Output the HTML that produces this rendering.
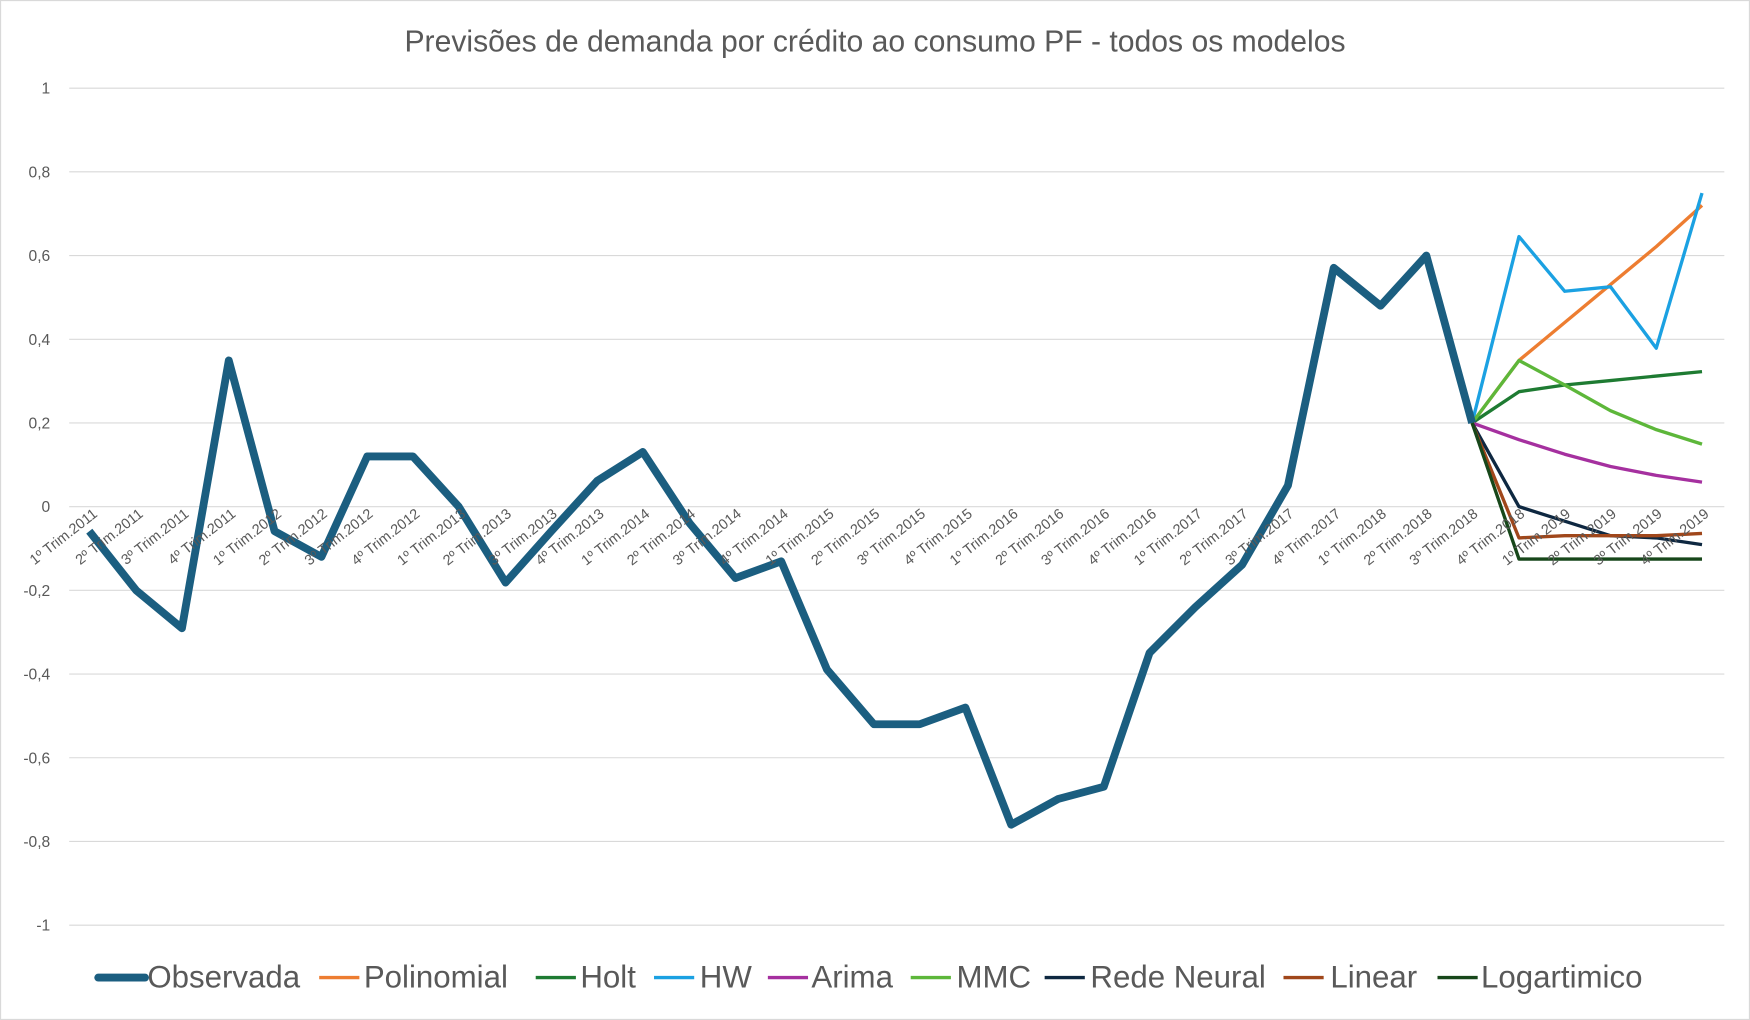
<!DOCTYPE html>
<html><head><meta charset="utf-8"><style>
html,body{margin:0;padding:0;background:#fff;}
svg{display:block;font-family:"Liberation Sans",sans-serif;}
</style></head><body>
<svg width="1750" height="1020" viewBox="0 0 1568 914" preserveAspectRatio="none">
<rect x="0.5" y="0.5" width="1567" height="913" fill="#fff" stroke="#d9d9d9"/>
<text x="784" y="46" text-anchor="middle" font-size="27" fill="#595959">Previsões de demanda por crédito ao consumo PF - todos os modelos</text>
<g stroke="#d9d9d9" stroke-width="1">
<line x1="62" x2="1545" y1="79" y2="79"/><line x1="62" x2="1545" y1="154" y2="154"/><line x1="62" x2="1545" y1="229" y2="229"/><line x1="62" x2="1545" y1="304" y2="304"/><line x1="62" x2="1545" y1="379" y2="379"/><line x1="62" x2="1545" y1="454" y2="454"/><line x1="62" x2="1545" y1="529" y2="529"/><line x1="62" x2="1545" y1="604" y2="604"/><line x1="62" x2="1545" y1="679" y2="679"/><line x1="62" x2="1545" y1="754" y2="754"/><line x1="62" x2="1545" y1="829" y2="829"/>
</g>
<g font-size="14" fill="#595959" text-anchor="end">
<text x="45" y="84">1</text><text x="45" y="159">0,8</text><text x="45" y="234">0,6</text><text x="45" y="309">0,4</text><text x="45" y="384">0,2</text><text x="45" y="459">0</text><text x="45" y="534">-0,2</text><text x="45" y="609">-0,4</text><text x="45" y="684">-0,6</text><text x="45" y="759">-0,8</text><text x="45" y="834">-1</text>
</g>
<g id="lbl" font-size="13" fill="#595959" text-anchor="end"></g>
<g fill="none" stroke-linejoin="round">
<polyline stroke="#ED7D31" stroke-width="3" points="1319,379 1361,323 1402,289 1443,255 1484,221 1525,184"/>
<polyline stroke="#1BA1E2" stroke-width="3" points="1319,379 1361,212 1402,261 1443,257 1484,312 1525,173"/>
<polyline stroke="#1E7B32" stroke-width="3" points="1319,379 1361,351 1402,345 1443,341 1484,337 1525,333"/>
<polyline stroke="#A5309F" stroke-width="3" points="1319,379 1361,394 1402,407 1443,418 1484,426 1525,432"/>
<polyline stroke="#5DB73A" stroke-width="3" points="1319,379 1361,323 1402,345 1443,368 1484,385 1525,398"/>
<polyline stroke="#0E2841" stroke-width="3" points="1319,379 1361,454 1402,467 1443,480 1484,482 1525,488"/>
<polyline stroke="#A0471B" stroke-width="3" points="1319,379 1361,482 1402,480 1443,480 1484,480 1525,478"/>
<polyline stroke="#17471A" stroke-width="3" points="1319,379 1361,501 1402,501 1443,501 1484,501 1525,501"/>
<polyline stroke="#1B5E80" stroke-width="7" points="80,476 122,529 163,563 205,323 246,476 288,499 329,409 370,409 411,454 453,522 494,476 535,431 576,405 618,469 659,518 700,503 741,600 783,649 824,649 865,634 906,739 948,716 989,705 1030,585 1071,544 1113,506 1154,435 1195,240 1237,274 1278,229 1319,379"/>
</g>
<g font-size="28" fill="#595959">
<line x1="88" x2="130" y1="876" y2="876" stroke="#1B5E80" stroke-width="7" stroke-linecap="round"/><text x="132" y="885">Observada</text>
<line x1="286" x2="322" y1="876" y2="876" stroke="#ED7D31" stroke-width="3"/><text x="326" y="885">Polinomial</text>
<line x1="480" x2="516" y1="876" y2="876" stroke="#1E7B32" stroke-width="3"/><text x="520" y="885">Holt</text>
<line x1="586" x2="622" y1="876" y2="876" stroke="#1BA1E2" stroke-width="3"/><text x="627" y="885">HW</text>
<line x1="688" x2="724" y1="876" y2="876" stroke="#A5309F" stroke-width="3"/><text x="727" y="885">Arima</text>
<line x1="816" x2="852" y1="876" y2="876" stroke="#5DB73A" stroke-width="3"/><text x="857" y="885">MMC</text>
<line x1="936" x2="972" y1="876" y2="876" stroke="#0E2841" stroke-width="3"/><text x="977" y="885">Rede Neural</text>
<line x1="1150" x2="1186" y1="876" y2="876" stroke="#A0471B" stroke-width="3"/><text x="1192" y="885">Linear</text>
<line x1="1288" x2="1324" y1="876" y2="876" stroke="#17471A" stroke-width="3"/><text x="1327" y="885">Logartimico</text>
</g>
<g font-size="13" fill="#595959" text-anchor="end">
<text transform="translate(88,462) rotate(-38)">1º Trim.2011</text>
<text transform="translate(129,462) rotate(-38)">2º Trim.2011</text>
<text transform="translate(170,462) rotate(-38)">3º Trim.2011</text>
<text transform="translate(212,462) rotate(-38)">4º Trim.2011</text>
<text transform="translate(253,462) rotate(-38)">1º Trim.2012</text>
<text transform="translate(294,462) rotate(-38)">2º Trim.2012</text>
<text transform="translate(335,462) rotate(-38)">3º Trim.2012</text>
<text transform="translate(377,462) rotate(-38)">4º Trim.2012</text>
<text transform="translate(418,462) rotate(-38)">1º Trim.2013</text>
<text transform="translate(459,462) rotate(-38)">2º Trim.2013</text>
<text transform="translate(500,462) rotate(-38)">3º Trim.2013</text>
<text transform="translate(542,462) rotate(-38)">4º Trim.2013</text>
<text transform="translate(583,462) rotate(-38)">1º Trim.2014</text>
<text transform="translate(624,462) rotate(-38)">2º Trim.2014</text>
<text transform="translate(665,462) rotate(-38)">3º Trim.2014</text>
<text transform="translate(707,462) rotate(-38)">4º Trim.2014</text>
<text transform="translate(748,462) rotate(-38)">1º Trim.2015</text>
<text transform="translate(789,462) rotate(-38)">2º Trim.2015</text>
<text transform="translate(830,462) rotate(-38)">3º Trim.2015</text>
<text transform="translate(872,462) rotate(-38)">4º Trim.2015</text>
<text transform="translate(913,462) rotate(-38)">1º Trim.2016</text>
<text transform="translate(954,462) rotate(-38)">2º Trim.2016</text>
<text transform="translate(995,462) rotate(-38)">3º Trim.2016</text>
<text transform="translate(1037,462) rotate(-38)">4º Trim.2016</text>
<text transform="translate(1078,462) rotate(-38)">1º Trim.2017</text>
<text transform="translate(1119,462) rotate(-38)">2º Trim.2017</text>
<text transform="translate(1160,462) rotate(-38)">3º Trim.2017</text>
<text transform="translate(1202,462) rotate(-38)">4º Trim.2017</text>
<text transform="translate(1243,462) rotate(-38)">1º Trim.2018</text>
<text transform="translate(1284,462) rotate(-38)">2º Trim.2018</text>
<text transform="translate(1325,462) rotate(-38)">3º Trim.2018</text>
<text transform="translate(1367,462) rotate(-38)">4º Trim.2018</text>
<text transform="translate(1408,462) rotate(-38)">1º Trim.2019</text>
<text transform="translate(1449,462) rotate(-38)">2º Trim.2019</text>
<text transform="translate(1490,462) rotate(-38)">3º Trim.2019</text>
<text transform="translate(1532,462) rotate(-38)">4º Trim.2019</text>
</g>
</svg>
</body></html>
